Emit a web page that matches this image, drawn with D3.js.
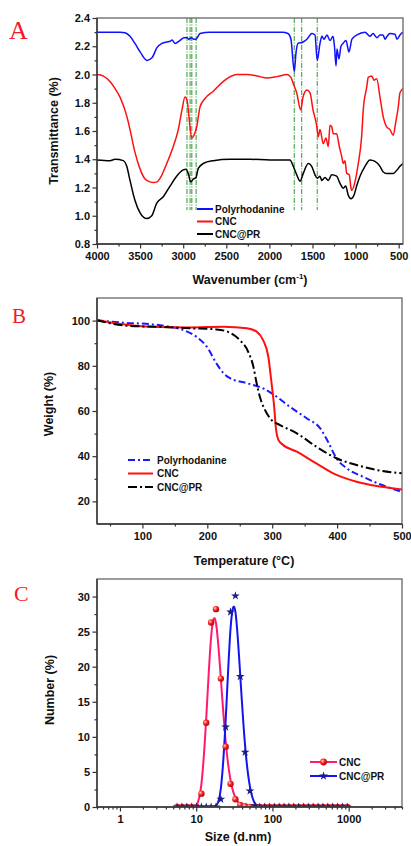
<!DOCTYPE html>
<html>
<head>
<meta charset="utf-8">
<script src="https://cdn.jsdelivr.net/npm/d3@7"></script>
<style>
body { margin: 0; background: #fff; }
svg text { font-family: "Liberation Sans", Arial, sans-serif; font-weight: bold; fill: #111; }
</style>
</head>
<body>
<div id="chart"></div>
<script>
// ---- A: FTIR, [wavenumber, transmittance] ----
var ftirPR = [[4000,2.30],[3850,2.30],[3730,2.30],[3675,2.295],[3617,2.27],[3560,2.22],[3500,2.16],[3420,2.10],[3360,2.12],[3305,2.19],[3245,2.22],[3190,2.23],[3150,2.235],[3130,2.245],[3095,2.22],[3040,2.24],[2990,2.26],[2956,2.26],[2933,2.25],[2910,2.26],[2875,2.25],[2852,2.25],[2805,2.29],[2690,2.30],[2400,2.30],[2100,2.30],[1850,2.30],[1785,2.29],[1750,2.25],[1711,2.02],[1692,2.15],[1668,2.22],[1610,2.23],[1565,2.25],[1506,2.29],[1471,2.28],[1445,2.10],[1413,2.22],[1390,2.27],[1367,2.25],[1332,2.28],[1297,2.24],[1262,2.27],[1245,2.20],[1227,2.06],[1216,2.18],[1193,2.11],[1170,2.20],[1146,2.22],[1111,2.24],[1077,2.16],[1042,2.25],[984,2.28],[891,2.30],[833,2.27],[798,2.29],[752,2.26],[717,2.28],[682,2.28],[659,2.25],[636,2.27],[601,2.29],[543,2.285],[520,2.25],[485,2.28],[450,2.30]];
var ftirCNC = [[4000,2.00],[3930,1.99],[3850,1.95],[3790,1.90],[3733,1.84],[3652,1.70],[3617,1.61],[3560,1.45],[3500,1.33],[3443,1.26],[3385,1.24],[3350,1.235],[3304,1.24],[3269,1.265],[3191,1.37],[3115,1.49],[3057,1.61],[3014,1.75],[2979,1.84],[2956,1.82],[2933,1.70],[2901,1.55],[2875,1.57],[2843,1.63],[2805,1.77],[2747,1.83],[2654,1.88],[2538,1.95],[2376,2.00],[2260,2.00],[2144,1.99],[2028,1.975],[1912,1.985],[1796,2.00],[1750,1.98],[1726,1.94],[1683,1.87],[1637,1.75],[1610,1.84],[1567,1.89],[1529,1.87],[1494,1.75],[1452,1.64],[1433,1.56],[1413,1.61],[1375,1.51],[1344,1.55],[1317,1.49],[1297,1.64],[1277,1.63],[1259,1.58],[1220,1.58],[1189,1.49],[1161,1.42],[1143,1.37],[1123,1.39],[1103,1.30],[1073,1.29],[1057,1.21],[1046,1.18],[1007,1.24],[969,1.37],[930,1.56],[911,1.75],[871,1.91],[853,1.98],[813,1.99],[787,1.96],[755,1.97],[717,1.84],[679,1.70],[640,1.63],[601,1.61],[563,1.57],[535,1.66],[505,1.77],[485,1.87],[450,1.90]];
var ftirCNCPR = [[4000,1.395],[3850,1.39],[3790,1.40],[3695,1.39],[3655,1.35],[3617,1.25],[3560,1.11],[3500,1.02],[3423,0.98],[3365,1.00],[3307,1.09],[3231,1.135],[3153,1.21],[3076,1.28],[2999,1.325],[2968,1.33],[2941,1.30],[2913,1.24],[2883,1.26],[2852,1.27],[2825,1.335],[2767,1.37],[2651,1.39],[2457,1.40],[2225,1.40],[1993,1.395],[1761,1.395],[1723,1.35],[1683,1.29],[1645,1.245],[1607,1.30],[1549,1.37],[1509,1.35],[1471,1.29],[1445,1.265],[1413,1.28],[1393,1.25],[1355,1.27],[1317,1.25],[1277,1.29],[1220,1.28],[1181,1.23],[1143,1.195],[1115,1.21],[1085,1.145],[1054,1.12],[1019,1.145],[988,1.21],[949,1.28],[891,1.35],[833,1.395],[775,1.385],[717,1.35],[679,1.31],[640,1.30],[601,1.30],[563,1.30],[524,1.32],[485,1.35],[450,1.37]];
var ftirMarks = [2956, 2920, 2900, 2850, 1712, 1625, 1445];
var ftirXTicks = [4000, 3500, 3000, 2500, 2000, 1500, 1000, 500];
var ftirYTicks = [0.8, 1.0, 1.2, 1.4, 1.6, 1.8, 2.0, 2.2, 2.4];

// ---- B: TGA, [temperature, weight] ----
var tgaPR = [[30,100.2],[50,99.6],[70,99.1],[112,98.4],[142,97.3],[163,95.8],[183,92.9],[199,88.5],[214,81.1],[225,76.7],[235,74.5],[261,72.3],[286,70],[307,66.3],[327,61.9],[353,56.8],[374,52.3],[386,46.4],[399,39.1],[415,34.6],[440,30.9],[466,27.6],[500,24.2]];
var tgaCNC = [[30,100.2],[70,98.4],[112,97.3],[173,97.0],[225,97.3],[261,96.6],[276,95.1],[286,91.4],[294,84],[299,72.3],[303,61.9],[306,51.6],[309.5,47.2],[315,45.4],[338,42],[368,36.8],[399,31.7],[430,28.7],[461,26.8],[500,25.3]];
var tgaCNCPR = [[30,100.2],[50,98.8],[81,97.6],[122,97.3],[173,96.6],[214,96.1],[235,94.6],[250,91.4],[263,86.2],[271,79.6],[276,72.3],[281,66.3],[289,60.4],[299,56],[312,53.8],[338,50.1],[368,44.2],[399,39.1],[430,36.1],[461,33.9],[500,32.4]];
var tgaXTicks = [100, 200, 300, 400, 500];
var tgaYTicks = [20, 40, 60, 80, 100];

// ---- C: DLS, size bins (d.nm) and number % ----
var dlsSize = [5.615,6.503,7.531,8.721,10.10,11.70,13.54,15.69,18.17,21.04,24.36,28.21,32.67,37.84,43.82,50.75,58.77,68.06,78.82,91.28,105.7,122.4,141.8,164.2,190.1,220.2,255.0,295.3,342.0,396.1,458.7,531.2,615.1,712.4,825.0,955.4];
var dlsCNC = [0,0,0,0,0,1.9,12.0,26.3,28.2,18.3,8.6,3.3,1.1,0.3,0.1,0,0,0,0,0,0,0,0,0,0,0,0,0,0,0,0,0,0,0,0,0];
var dlsCNCPR = [0,0,0,0,0,0,0,0,0,1.1,11.4,27.8,30.1,18.6,7.8,2.3,0.2,0,0,0,0,0,0,0,0,0,0,0,0,0,0,0,0,0,0,0];
var dlsXTicks = [1, 10, 100, 1000];
var dlsYTicks = [0, 5, 10, 15, 20, 25, 30];

var svg = d3.select("#chart").append("svg")
    .attr("width", 411)
    .attr("height", 846);

var defs = svg.append("defs");
var ball = defs.append("radialGradient").attr("id", "ball")
    .attr("cx", "35%").attr("cy", "35%").attr("r", "65%");
ball.append("stop").attr("offset", "0%").attr("stop-color", "#ffd8d8");
ball.append("stop").attr("offset", "45%").attr("stop-color", "#ff2a2a");
ball.append("stop").attr("offset", "100%").attr("stop-color", "#b80000");

function clip(id, x0, x1, y0, y1) {
    defs.append("clipPath").attr("id", id)
        .append("rect").attr("x", x0).attr("y", y0)
        .attr("width", x1 - x0).attr("height", y1 - y0);
}

// frame + ticks in Origin style (outward ticks on left/bottom)
function axes(x, y, xMajor, xMinor, yMajor, yMinor, xFmt, yFmt) {
    var xr = x.range(), yr = y.range();
    svg.append("rect")
        .attr("x", xr[0]).attr("y", yr[1])
        .attr("width", xr[1] - xr[0]).attr("height", yr[0] - yr[1])
        .style("fill", "none").style("stroke", "#666").style("stroke-width", 1.3);

    var gx = svg.append("g").attr("transform", "translate(0," + yr[0] + ")");
    gx.append("g").call(d3.axisBottom(x).tickValues(xMinor).tickSize(2.5).tickFormat(""));
    gx.append("g").call(d3.axisBottom(x).tickValues(xMajor).tickSize(4.5).tickPadding(4).tickFormat(xFmt));
    var gy = svg.append("g").attr("transform", "translate(" + xr[0] + ",0)");
    gy.append("g").call(d3.axisLeft(y).tickValues(yMinor).tickSize(2.5).tickFormat(""));
    gy.append("g").call(d3.axisLeft(y).tickValues(yMajor).tickSize(4.5).tickPadding(2.5).tickFormat(yFmt));

    [gx, gy].forEach(function(g) {
        g.selectAll(".domain").remove();
        g.selectAll(".tick line").style("stroke", "#333").style("stroke-width", 1.2);
        g.selectAll(".tick text").style("font-size", "11px").style("fill", "#111")
            .style("font-family", "'Liberation Sans', Arial, sans-serif").style("font-weight", "bold");
    });
    svg.append("line").attr("x1", xr[0]).attr("x2", xr[1]).attr("y1", yr[0]).attr("y2", yr[0])
        .style("stroke", "#333").style("stroke-width", 1.4);
    svg.append("line").attr("x1", xr[0]).attr("x2", xr[0]).attr("y1", yr[0]).attr("y2", yr[1])
        .style("stroke", "#333").style("stroke-width", 1.4);
}

function panelLetter(t, x, y, size) {
    svg.append("text").attr("x", x).attr("y", y).text(t)
        .style("font-family", "'Liberation Serif', 'Times New Roman', serif")
        .style("font-weight", "normal").style("fill", "#ee1c24")
        .style("font-size", size + "px");
}

function yTitle(t, x, y) {
    svg.append("text").attr("transform", "translate(" + x + "," + y + ") rotate(-90)")
        .attr("text-anchor", "middle").attr("dy", "0.35em")
        .style("font-size", "12.5px").text(t);
}

// =================== A ===================
var xA = d3.scaleLinear().domain([4000, 450]).range([97, 403]);
var yA = d3.scaleLinear().domain([0.8, 2.4]).range([244, 18]);
clip("clipA", 97, 403, 18, 244);

var lineA = d3.line().x(function(d) { return xA(d[0]); }).y(function(d) { return yA(d[1]); })
    .curve(d3.curveMonotoneX);
var gA = svg.append("g").attr("clip-path", "url(#clipA)");

gA.selectAll("line.mark")
    .data(ftirMarks)
    .enter().append("line")
        .attr("class", "mark")
        .attr("x1", function(d) { return xA(d); })
        .attr("x2", function(d) { return xA(d); })
        .attr("y1", yA(2.4))
        .attr("y2", yA(1.04))
        .style("stroke", "#2f9a2f")
        .style("stroke-width", 1)
        .style("stroke-dasharray", "5,1.5,1,1.5");

var seriesA = [
    {name: "Polyrhodanine", data: ftirPR, color: "#1010ff"},
    {name: "CNC", data: ftirCNC, color: "#ff1010"},
    {name: "CNC@PR", data: ftirCNCPR, color: "#000"}
];
gA.selectAll("path.ftir")
    .data(seriesA)
    .enter().append("path")
        .attr("class", "ftir")
        .attr("d", function(d) { return lineA(d.data); })
        .style("fill", "none")
        .style("stroke", function(d) { return d.color; })
        .style("stroke-width", 1.5);

axes(xA, yA, ftirXTicks, d3.range(3750, 449, -500),
     ftirYTicks, d3.range(0.9, 2.4, 0.2), d3.format("d"), d3.format(".1f"));

var legA = svg.selectAll("g.legA")
    .data(seriesA)
    .enter().append("g")
        .attr("class", "legA")
        .attr("transform", function(d, i) { return "translate(197," + [209, 221.5, 234][i] + ")"; });
legA.append("line").attr("x1", 0).attr("x2", 16)
    .style("stroke", function(d) { return d.color; }).style("stroke-width", 2);
legA.append("text").attr("x", 18).attr("dy", "0.35em")
    .style("font-size", "10px").text(function(d) { return d.name; });

yTitle("Transmittance (%)", 54, 131);
var tA = svg.append("text").attr("x", 250).attr("y", 284).attr("text-anchor", "middle")
    .style("font-size", "12.5px");
tA.append("tspan").text("Wavenumber (cm");
tA.append("tspan").attr("dy", -5).style("font-size", "8px").text("-1");
tA.append("tspan").attr("dy", 5).text(")");
panelLetter("A", 9, 39, 26);

// =================== B ===================
var xB = d3.scaleLinear().domain([30, 500]).range([97, 402]);
var yB = d3.scaleLinear().domain([10, 110]).range([524, 298]);
clip("clipB", 97, 402, 298, 524);
var lineB = d3.line().x(function(d) { return xB(d[0]); }).y(function(d) { return yB(d[1]); })
    .curve(d3.curveMonotoneX);

var seriesB = [
    {name: "Polyrhodanine", data: tgaPR, color: "#1a1aff", dash: "7,3,2,3"},
    {name: "CNC", data: tgaCNC, color: "#ff1010", dash: null},
    {name: "CNC@PR", data: tgaCNCPR, color: "#000", dash: "9,3,2,3"}
];
svg.append("g").attr("clip-path", "url(#clipB)")
    .selectAll("path.tga")
    .data(seriesB)
    .enter().append("path")
        .attr("class", "tga")
        .attr("d", function(d) { return lineB(d.data); })
        .style("fill", "none")
        .style("stroke", function(d) { return d.color; })
        .style("stroke-width", 2)
        .style("stroke-dasharray", function(d) { return d.dash; });

axes(xB, yB, tgaXTicks, [50, 150, 250, 350, 450], tgaYTicks, [30, 50, 70, 90],
     d3.format("d"), d3.format("d"));

var legB = svg.selectAll("g.legB")
    .data(seriesB)
    .enter().append("g")
        .attr("class", "legB")
        .attr("transform", function(d, i) { return "translate(128," + (460 + i * 13.5) + ")"; });
legB.append("line").attr("x1", 0).attr("x2", 25)
    .style("stroke", function(d) { return d.color; }).style("stroke-width", 2)
    .style("stroke-dasharray", function(d) { return d.dash; });
legB.append("text").attr("x", 29).attr("dy", "0.35em")
    .style("font-size", "10px").text(function(d) { return d.name; });

yTitle("Weight (%)", 49, 404);
svg.append("text").attr("x", 244).attr("y", 565).attr("text-anchor", "middle")
    .style("font-size", "12.5px").text("Temperature (°C)");
panelLetter("B", 12, 323, 21);

// =================== C ===================
var xC = d3.scaleLog().domain([0.5, 5000]).range([97, 402]);
var yC = d3.scaleLinear().domain([0, 32.5]).range([807, 579]);
clip("clipC", 97, 402, 579, 807);

var lineC = d3.line()
    .x(function(d) { return xC(d.s); })
    .y(function(d) { return yC(d.v); })
    .curve(d3.curveBasis);
var star = d3.symbol().type(d3.symbolStar).size(24);

var seriesC = [
    {name: "CNC", vals: dlsCNC, color: "#ff1a70"},
    {name: "CNC@PR", vals: dlsCNCPR, color: "#1414f0"}
];
seriesC.forEach(function(sr) {
    sr.pts = dlsSize.map(function(s, i) { return {s: s, v: sr.vals[i]}; });
});

var gC = svg.append("g").attr("clip-path", "url(#clipC)");
gC.selectAll("path.dls")
    .data(seriesC)
    .enter().append("path")
        .attr("class", "dls")
        .attr("d", function(d) { return lineC(d.pts); })
        .style("fill", "none")
        .style("stroke", function(d) { return d.color; })
        .style("stroke-width", 2);

gC.selectAll("circle.cnc")
    .data(seriesC[0].pts)
    .enter().append("circle")
        .attr("class", "cnc")
        .attr("cx", function(d) { return xC(d.s); })
        .attr("cy", function(d) { return yC(d.v); })
        .attr("r", 3.2)
        .style("fill", "url(#ball)");

gC.selectAll("path.pr")
    .data(seriesC[1].pts)
    .enter().append("path")
        .attr("class", "pr")
        .attr("transform", function(d) { return "translate(" + xC(d.s) + "," + yC(d.v) + ")"; })
        .attr("d", star)
        .style("fill", "#1b1b8c");

var minorC = xC.ticks().filter(function(v) { return dlsXTicks.indexOf(v) < 0; });
axes(xC, yC, dlsXTicks, minorC, dlsYTicks, [2.5, 7.5, 12.5, 17.5, 22.5, 27.5],
     d3.format("d"), d3.format("d"));

var legC = svg.selectAll("g.legC")
    .data(seriesC)
    .enter().append("g")
        .attr("class", "legC")
        .attr("transform", function(d, i) { return "translate(310," + (762 + i * 14) + ")"; });
legC.append("line").attr("x1", 0).attr("x2", 27)
    .style("stroke", function(d) { return d.color; }).style("stroke-width", 2);
legC.filter(function(d, i) { return i === 0; }).append("circle")
    .attr("cx", 13.5).attr("r", 3.4).style("fill", "url(#ball)");
legC.filter(function(d, i) { return i === 1; }).append("path")
    .attr("transform", "translate(13.5,0)").attr("d", star).style("fill", "#1b1b8c");
legC.append("text").attr("x", 29).attr("dy", "0.35em")
    .style("font-size", "10px").text(function(d) { return d.name; });

yTitle("Number (%)", 50, 690);
svg.append("text").attr("x", 238).attr("y", 841).attr("text-anchor", "middle")
    .style("font-size", "12.5px").text("Size (d.nm)");
panelLetter("C", 14, 601, 22);
</script>
</body>
</html>
